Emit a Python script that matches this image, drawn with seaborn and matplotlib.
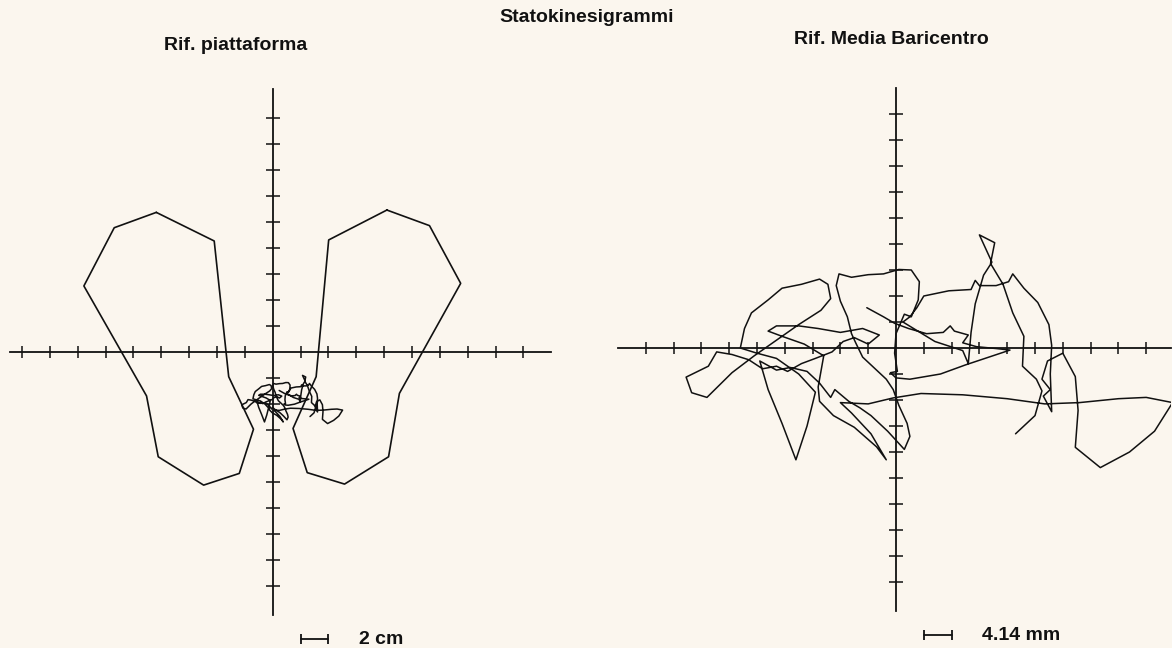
import numpy as np
import pandas as pd
import matplotlib
matplotlib.use("Agg")
import matplotlib.pyplot as plt
import seaborn as sns

# size of one axis division
DIV_LEFT_MM = 20.0    # "2 cm"
DIV_RIGHT_MM = 4.14   # "4.14 mm"

# foot outlines on the platform, in 2 cm divisions
left_foot_x = [-4.18, -5.69, -6.78, -4.53, -4.11, -2.48, -1.20, -0.69, -1.58, -2.10]
left_foot_y = [5.37, 4.78, 2.54, -1.69, -4.03, -5.12, -4.67, -2.97, -0.95, 4.27]
right_foot_x = [4.10, 5.63, 6.75, 4.55, 4.16, 2.58, 1.24, 0.73, 1.56, 2.01]
right_foot_y = [5.46, 4.86, 2.64, -1.59, -4.03, -5.08, -4.64, -2.94, -0.95, 4.31]

# mean position of the centre of pressure on the platform (mm)
cop_mean_mm = (9.0, -36.0)

# centre of pressure trace relative to its mean, in 4.14 mm divisions
cop_x = [-1.05, -0.45, -0.05, 0.45, 1.1, 1.7, 1.95, 2.1, 2.6, 2.4, 2.9, 3.6, 4.1, 3.2, 2.5,
         1.6, 0.5, 0.0, -0.2, 0.05, -0.05, 0.0, 0.3, 0.55, 0.8, 0.84, 0.55, 0.1, -0.45, -1.0,
         -1.6, -2.05, -2.15, -2.0, -1.75, -1.6, -1.45, -1.2, -0.8, -0.35, -0.1, 0.1, 0.4, 0.5, 0.3,
         -0.3, -0.9, -1.3, -1.7, -2.2, -2.35, -2.75, -3.2, -3.8, -4.3, -4.9, -4.6, -4.1, -3.6, -3.2,
         -2.9, -3.5, -4.3, -5.0, -5.6, -5.45, -5.2, -4.6, -4.1, -3.4, -2.75, -2.45, -2.35, -2.7, -3.5,
         -4.3, -5.1, -5.9, -6.8, -7.35, -7.55, -6.75, -6.45, -5.9, -5.3, -4.8, -4.3, -3.9, -3.4, -2.9,
         -2.3, -1.9, -1.5, -1.0, -0.6, -1.2, -2.0, -2.8, -3.5, -4.3, -4.6, -4.1, -3.3, -2.6, -2.8,
         -2.75, -2.25, -1.5, -0.7, -0.35, -0.9, -1.6, -2.0, -1.0, -0.1, 0.9, 2.4, 4.0, 5.35, 6.6,
         8.0, 9.0, 9.95, 9.3, 8.4, 7.35, 6.45, 6.55, 6.45, 6.0, 5.45, 5.25, 5.55, 5.3, 5.6,
         5.55, 5.6, 5.5, 5.1, 4.6, 4.2, 4.05, 3.6, 3.0, 2.85, 2.7, 1.9, 1.0, 0.75, 0.5,
         0.25, 1.4, 2.4, 2.6, 2.7, 2.85, 3.15, 3.45, 3.0, 3.55, 3.4, 3.85, 4.2, 4.6, 4.55,
         5.05, 5.25, 5.0, 4.3]
cop_y = [1.55, 1.2, 0.95, 0.75, 0.55, 0.6, 0.85, 0.65, 0.5, 0.2, 0.05, -0.02, -0.08, -0.4, -0.65,
         -1.0, -1.2, -1.15, -0.95, -0.9, -0.2, 0.55, 1.3, 1.2, 1.85, 2.55, 3.0, 3.02, 2.85, 2.82,
         2.72, 2.85, 2.4, 1.8, 1.2, 0.55, 0.2, -0.35, -0.75, -1.2, -1.6, -2.2, -2.9, -3.4, -3.9,
         -3.2, -2.6, -2.3, -2.05, -1.6, -1.9, -1.35, -0.9, -0.75, -0.85, -0.5, -1.6, -2.9, -4.3, -3.0,
         -1.7, -1.0, -0.4, -0.2, 0.0, 0.75, 1.35, 1.85, 2.3, 2.45, 2.65, 2.45, 1.9, 1.45, 0.9,
         0.3, -0.3, -0.95, -1.9, -1.72, -1.12, -0.7, -0.15, -0.25, -0.45, -0.8, -0.7, -0.9, -0.6, -0.4,
         -0.15, 0.25, 0.4, 0.15, 0.5, 0.75, 0.6, 0.75, 0.85, 0.85, 0.65, 0.45, 0.15, -0.3, -1.5,
         -2.05, -2.6, -3.05, -3.8, -4.3, -3.3, -2.5, -2.1, -2.15, -1.92, -1.75, -1.8, -1.95, -2.15, -2.1,
         -1.95, -1.9, -2.1, -3.2, -4.0, -4.6, -3.82, -2.4, -1.1, -0.2, -0.5, -1.2, -1.6, -1.85, -2.45,
         -1.0, 0.1, 0.9, 1.75, 2.3, 2.85, 2.55, 2.4, 2.4, 2.6, 2.25, 2.2, 2.0, 1.55, 1.2,
         1.0, 0.25, -0.1, -0.6, 0.6, 1.7, 2.8, 3.3, 4.35, 4.05, 3.25, 2.45, 1.35, 0.45, -0.7,
         -1.2, -1.65, -2.6, -3.3]

titles = ["Rif. piattaforma", "Rif. Media Baricentro"]
scale_labels = ["2 cm", "4.14 mm"]

BG = "#fbf6ee"
INK = "#111111"
W, H = 1172, 648

sns.set_style("white")
plt.rcParams["font.family"] = ["Liberation Sans", "DejaVu Sans"]

# tables for seaborn
feet = pd.concat([
    pd.DataFrame({"x": left_foot_x + left_foot_x[:1], "y": left_foot_y + left_foot_y[:1], "foot": "L"}),
    pd.DataFrame({"x": right_foot_x + right_foot_x[:1], "y": right_foot_y + right_foot_y[:1], "foot": "R"}),
], ignore_index=True)

cop_mm_x = np.array(cop_x) * DIV_RIGHT_MM
cop_mm_y = np.array(cop_y) * DIV_RIGHT_MM
trace_platform = pd.DataFrame({"x": (cop_mm_x + cop_mean_mm[0]) / DIV_LEFT_MM,
                               "y": (cop_mm_y + cop_mean_mm[1]) / DIV_LEFT_MM})
trace_mean = pd.DataFrame({"x": cop_mm_x / DIV_RIGHT_MM, "y": cop_mm_y / DIV_RIGHT_MM})


def add_panel(fig, cx, cy, sx, sy, xlim, ylim):
    # place axes so that data 0,0 lands on pixel (cx, cy) with sx/sy px per division
    x0 = (cx + xlim[0] * sx) / W
    x1 = (cx + xlim[1] * sx) / W
    y0 = 1 - (cy - ylim[0] * sy) / H
    y1 = 1 - (cy - ylim[1] * sy) / H
    ax = fig.add_axes([x0, y0, x1 - x0, y1 - y0])
    ax.set_xlim(*xlim)
    ax.set_ylim(*ylim)
    return ax


def style_cross(ax, xb, yb):
    ax.set_facecolor("none")
    for s in ["top", "right"]:
        ax.spines[s].set_visible(False)
    for s in ["left", "bottom"]:
        ax.spines[s].set_position(("data", 0))
        ax.spines[s].set_color(INK)
        ax.spines[s].set_linewidth(1.3)
    ax.spines["bottom"].set_bounds(*xb)
    ax.spines["left"].set_bounds(*yb)
    ticks = [t for t in range(-9, 10) if t != 0]
    ax.set_xticks(ticks)
    ax.set_yticks(ticks)
    ax.tick_params(axis="x", direction="inout", length=8.5, width=1.1, color=INK,
                   labelbottom=False, bottom=True)
    ax.tick_params(axis="y", direction="inout", length=10, width=1.1, color=INK,
                   labelleft=False, left=True)
    ax.set_xlabel("")
    ax.set_ylabel("")


def scale_bar(ax, y, label):
    ax.plot([1, 2], [y, y], color=INK, lw=1.3, marker="|", ms=7, mew=1.3, clip_on=False)
    ax.text(3.1, y, label, va="center", ha="left", fontsize=14, fontweight="bold", color=INK)


fig = plt.figure(figsize=(W / 100, H / 100), dpi=100, facecolor=BG)

# left: platform reference
ax1 = add_panel(fig, 272.7, 352, 27.85, 26.0, (-9.8, 10.3), (-10.6, 10.6))
sns.lineplot(data=feet, x="x", y="y", units="foot", estimator=None, sort=False,
             color=INK, lw=1.2, ax=ax1)
sns.lineplot(data=trace_platform, x="x", y="y", estimator=None, sort=False,
             color=INK, lw=1.1, ax=ax1)
ax1.set_xlim(-9.8, 10.3)
ax1.set_ylim(-10.6, 10.6)
style_cross(ax1, (-9.45, 10.0), (-10.1, 10.1))
scale_bar(ax1, -11.04, scale_labels[0])

# right: mean centre reference
ax2 = add_panel(fig, 896, 348, 27.8, 26.0, (-10.5, 9.9), (-10.6, 10.6))
sns.lineplot(data=trace_mean, x="x", y="y", estimator=None, sort=False,
             color=INK, lw=1.1, ax=ax2)
ax2.set_xlim(-10.5, 9.9)
ax2.set_ylim(-10.6, 10.6)
style_cross(ax2, (-10.0, 9.9), (-10.1, 10.0))
scale_bar(ax2, -11.04, scale_labels[1])

fig.text(587 / W, 1 - 17 / H, "Statokinesigrammi", ha="center", va="center",
         fontsize=14, fontweight="bold", color=INK)
fig.text(236 / W, 1 - 46 / H, titles[0], ha="center", va="center",
         fontsize=14, fontweight="bold", color=INK)
fig.text(891 / W, 1 - 40 / H, titles[1], ha="center", va="center",
         fontsize=14, fontweight="bold", color=INK)

fig.savefig("out.png", dpi=100, facecolor=BG)
plt.close(fig)
